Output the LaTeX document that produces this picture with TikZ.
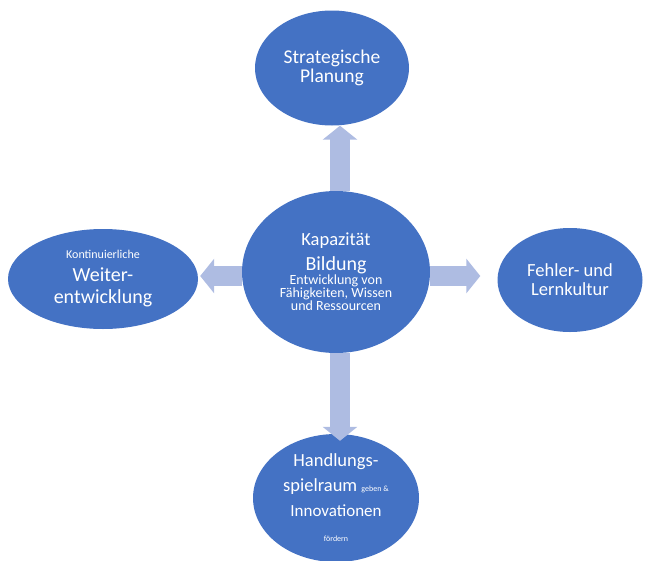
\documentclass[tikz,border=0pt]{standalone}
\usepackage{fontspec}
\setmainfont{Carlito}
\usetikzlibrary{shapes.geometric,arrows.meta}
\definecolor{blasenblau}{RGB}{68,114,196}
\definecolor{pfeilblau}{RGB}{174,188,226}
\tikzset{
  blase/.style={ellipse, fill=blasenblau, text=white, align=center, inner sep=0pt},
  pfeil/.style={draw=pfeilblau, line width=20pt, -{Triangle[width=34pt,length=14pt]}}
}

\begin{document}
\begin{tikzpicture}[x=1pt,y=-1pt]
\useasboundingbox (0,0) rectangle (648,560);

\node[blase, minimum width=188pt, minimum height=162pt] (kap) at (336,272)
  {{\fontsize{18.5}{18}\selectfont Kapazit\"at}\\[7pt]
   {\fontsize{20}{18}\selectfont Bildung}\\
   {\fontsize{14}{13}\selectfont Entwicklung von}\\
   {\fontsize{14}{13}\selectfont F\"ahigkeiten, Wissen}\\
   {\fontsize{14}{13}\selectfont und Ressourcen}};
\node[blase, minimum width=154pt, minimum height=115pt, font=\fontsize{19.5}{19}\selectfont] (oben) at (332,68)
  {Strategische\\Planung};
\node[blase, minimum width=190pt, minimum height=100pt, font=\fontsize{20}{22}\selectfont] (links) at (103,279)
  {{\fontsize{12}{12}\selectfont Kontinuierliche}\\[1pt]
   Weiter-\\
   entwicklung};
\node[blase, minimum width=145pt, minimum height=104pt, font=\fontsize{18.5}{19}\selectfont] (rechts) at (570,280)
  {Fehler- und\\Lernkultur};
\node[blase, minimum width=166pt, minimum height=128pt, font=\fontsize{18.5}{25}\selectfont] (unten) at (336,498)
  {Handlungs-\\
   spielraum {\fontsize{8}{8}\selectfont geben \&}\\
   {\fontsize{17}{20}\selectfont Innovationen}\\
   {\fontsize{8}{8}\selectfont f\"ordern}};

% Pfeile vom Zentrum nach aussen
\draw[pfeil] (kap.north -| 340,0) -- (oben.south -| 340,0);
\draw[pfeil] (kap.south -| 340,0) -- ([yshift=-7pt]unten.north -| 340,0);
\draw[pfeil] (kap.west |- 0,276) -- ([xshift=2pt]links.east |- 0,276);
\draw[pfeil] (kap.east |- 0,276) -- ([xshift=-17pt]rechts.west |- 0,276);
\end{tikzpicture}
\end{document}
